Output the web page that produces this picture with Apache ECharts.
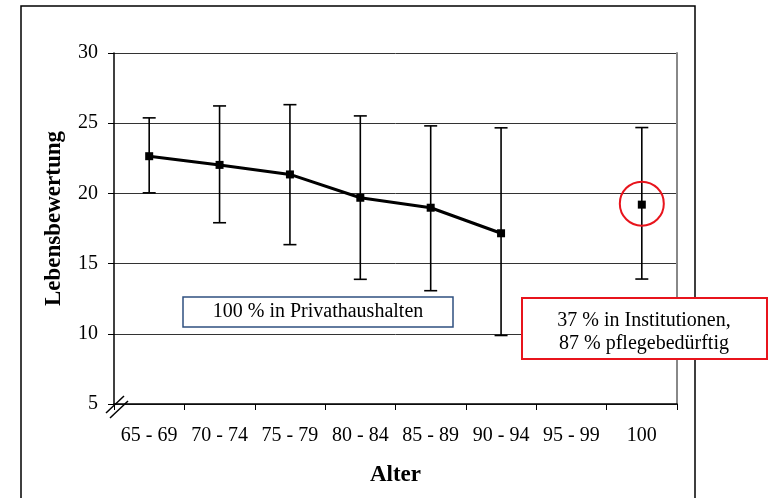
<!DOCTYPE html>
<html>
<head>
<meta charset="utf-8">
<script src="https://cdn.jsdelivr.net/npm/echarts@6/dist/echarts.min.js"></script>
<style>
  html, body { margin: 0; padding: 0; background: #fff; }
  #main { width: 769px; height: 498px; }
</style>
</head>
<body>
<div id="main"></div>
<script>
// Altersgruppen
const categories = ['65 - 69', '70 - 74', '75 - 79', '80 - 84', '85 - 89', '90 - 94', '95 - 99', '100'];
// Mittelwert der Lebensbewertung
const meanValues = [22.65, 22.03, 21.35, 19.69, 18.98, 17.16, null, 19.2];
// Fehlerbalken unten / oben
const lowerValues = [20.04, 17.91, 16.35, 13.88, 13.07, 9.88, null, 13.9];
const upperValues = [25.38, 26.23, 26.32, 25.52, 24.81, 24.67, null, 24.69];
// markierter Punkt (100 Jahre)
const highlightIndex = 7;
const yTicks = [5, 10, 15, 20, 25, 30];

const serif = '"Liberation Serif", "DejaVu Serif", serif';

const errorData = [];
categories.forEach((c, i) => {
  if (lowerValues[i] != null) errorData.push([i, lowerValues[i], upperValues[i]]);
});

const chart = echarts.init(document.getElementById('main'), null, { renderer: 'canvas' });

const option = {
  animation: false,
  backgroundColor: '#fff',
  grid: {
    left: 114,
    top: 53,
    right: 92,
    bottom: 94
  },
  xAxis: {
    type: 'category',
    data: categories,
    boundaryGap: true,
    name: 'Alter',
    nameLocation: 'middle',
    nameGap: 60,
    nameTextStyle: {
      fontFamily: serif,
      fontSize: 23,
      fontWeight: 'bold',
      color: '#000'
    },
    axisLine: { lineStyle: { color: '#000', width: 1.5 } },
    axisTick: { show: true, length: 6, lineStyle: { color: '#000' } },
    axisLabel: {
      fontFamily: serif,
      fontSize: 20,
      color: '#000',
      margin: 22,
      interval: 0
    }
  },
  yAxis: [
    {
      type: 'value',
      min: yTicks[0],
      max: yTicks[yTicks.length - 1],
      interval: 5,
      name: 'Lebensbewertung',
      nameLocation: 'middle',
      nameGap: 48,
      nameTextStyle: {
        fontFamily: serif,
        fontSize: 23,
        fontWeight: 'bold',
        color: '#000',
        padding: [0, 0, 0, 20]
      },
      axisLine: { show: true, lineStyle: { color: '#000', width: 1.5 } },
      axisTick: { show: true, length: 6, lineStyle: { color: '#000' } },
      axisLabel: {
        fontFamily: serif,
        fontSize: 20,
        color: '#000',
        margin: 16
      },
      splitLine: { show: true, lineStyle: { color: '#333', width: 1 } }
    },
    {
      // rechter Rand der Zeichenfläche
      type: 'value',
      position: 'right',
      min: yTicks[0],
      max: yTicks[yTicks.length - 1],
      interval: 5,
      axisLine: { show: true, lineStyle: { color: '#888', width: 2 } },
      axisTick: { show: false },
      axisLabel: { show: false },
      splitLine: { show: false }
    }
  ],
  series: [
    {
      name: 'Fehlerbalken',
      type: 'custom',
      data: errorData,
      z: 2,
      renderItem: function (params, api) {
        const idx = api.value(0);
        const low = api.coord([idx, api.value(1)]);
        const high = api.coord([idx, api.value(2)]);
        const half = 6.5;
        const style = { stroke: '#000', lineWidth: 1.6 };
        return {
          type: 'group',
          children: [
            { type: 'line', shape: { x1: low[0], y1: low[1], x2: high[0], y2: high[1] }, style: style },
            { type: 'line', shape: { x1: low[0] - half, y1: low[1], x2: low[0] + half, y2: low[1] }, style: style },
            { type: 'line', shape: { x1: high[0] - half, y1: high[1], x2: high[0] + half, y2: high[1] }, style: style }
          ]
        };
      }
    },
    {
      name: 'Mittelwert',
      type: 'line',
      data: meanValues,
      connectNulls: false,
      symbol: 'rect',
      symbolSize: 8,
      showAllSymbol: true,
      z: 3,
      lineStyle: { color: '#000', width: 3 },
      itemStyle: { color: '#000' }
    },
    {
      name: 'Markierung',
      type: 'custom',
      data: [[highlightIndex, meanValues[highlightIndex]]],
      z: 4,
      renderItem: function (params, api) {
        const p = api.coord([api.value(0), api.value(1)]);
        return {
          type: 'circle',
          shape: { cx: p[0], cy: p[1] - 1, r: 22 },
          style: { fill: 'none', stroke: '#e8141c', lineWidth: 2 }
        };
      }
    }
  ],
  graphic: [
    // äußerer Rahmen
    {
      type: 'rect',
      shape: { x: 21, y: 6, width: 674, height: 500 },
      style: { fill: 'none', stroke: '#000', lineWidth: 1.5 },
      z: 0
    },
    // Achsenbruch
    {
      type: 'line',
      shape: { x1: 106, y1: 413, x2: 124, y2: 396 },
      style: { stroke: '#000', lineWidth: 1.5 },
      z: 10
    },
    {
      type: 'line',
      shape: { x1: 110, y1: 418, x2: 128, y2: 401 },
      style: { stroke: '#000', lineWidth: 1.5 },
      z: 10
    },
    // Textfeld Privathaushalte
    {
      type: 'rect',
      shape: { x: 183, y: 297, width: 270, height: 30 },
      style: { fill: '#fff', stroke: '#2f5080', lineWidth: 1.5 },
      z: 10
    },
    {
      type: 'text',
      x: 318,
      y: 312,
      style: {
        text: '100 % in Privathaushalten',
        font: '20px ' + serif,
        fill: '#000',
        align: 'center',
        verticalAlign: 'middle'
      },
      z: 11
    },
    // Textfeld Institutionen
    {
      type: 'rect',
      shape: { x: 522, y: 298, width: 245, height: 61 },
      style: { fill: '#fff', stroke: '#e8141c', lineWidth: 2 },
      z: 10
    },
    {
      type: 'text',
      x: 644,
      y: 332,
      style: {
        text: '37 % in Institutionen,\n87 % pflegebedürftig',
        font: '20px ' + serif,
        lineHeight: 23,
        fill: '#000',
        align: 'center',
        verticalAlign: 'middle'
      },
      z: 11
    }
  ]
};

chart.setOption(option);
</script>
</body>
</html>
